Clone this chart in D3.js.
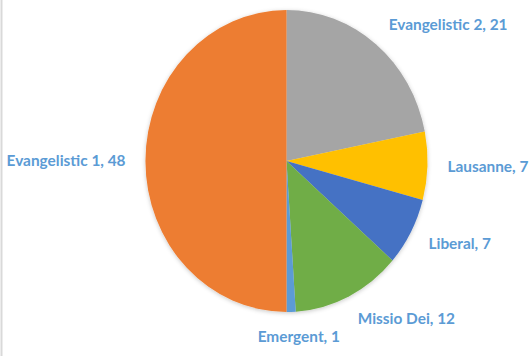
<!DOCTYPE html>
<html>
<head>
<meta charset="utf-8">
<script src="https://cdn.jsdelivr.net/npm/d3@7"></script>
<style>
  html, body { margin: 0; padding: 0; background: #fff; }
  svg { display: block; }
</style>
</head>
<body>
<svg id="chart" width="532" height="356"></svg>
<script>
// Slices in clockwise order, starting at twelve o'clock
const categories = ["Evangelistic 2", "Lausanne", "Liberal", "Missio Dei", "Emergent", "Evangelistic 1"];
const values = [21, 7, 7, 12, 1, 48];
const colors = ["#A5A5A5", "#FFC000", "#4472C4", "#70AD47", "#5B9BD5", "#ED7D31"];

const W = 532, H = 356;
const cx = 286.5, cy = 161;
const rx = 141, ry = 151;          // the pie is drawn slightly taller than wide
const labelGap = 20;

const svg = d3.select("#chart");

// left frame line of the chart area
svg.append("line")
  .attr("x1", 1.5).attr("x2", 1.5).attr("y1", 0).attr("y2", H)
  .attr("stroke", "#d9d9d9").attr("stroke-width", 2);

const defs = svg.append("defs");
const f = defs.append("filter").attr("id", "soft").attr("x", "-10%").attr("y", "-10%")
  .attr("width", "120%").attr("height", "120%");
f.append("feDropShadow").attr("dx", 0).attr("dy", 1).attr("stdDeviation", 2)
  .attr("flood-color", "#000").attr("flood-opacity", 0.22);

const data = categories.map((c, i) => ({ name: c, value: values[i], color: colors[i] }));
const pie = d3.pie().sort(null).value(d => d.value);
const arcs = pie(data);
const arc = d3.arc().innerRadius(0).outerRadius(rx);

const g = svg.append("g")
  .attr("transform", `translate(${cx},${cy}) scale(1,${ry / rx})`)
  .attr("filter", "url(#soft)");

g.selectAll("path")
  .data(arcs)
  .join("path")
  .attr("d", arc)
  .attr("fill", d => d.data.color);

// outside-end data labels
const labels = svg.append("g")
  .attr("font-family", "Lato, 'Open Sans', sans-serif")
  .attr("font-weight", "bold")
  .attr("font-size", "15.4px")
  .attr("fill", "#5B9BD5");

labels.selectAll("text")
  .data(arcs)
  .join("text")
  .each(function (d) {
    const a = (d.startAngle + d.endAngle) / 2;
    const s = Math.sin(a), c = Math.cos(a);
    const x = cx + (rx + labelGap) * s;
    const y = cy - (ry + labelGap) * c - 5 * c;
    const anchor = s > 0.1 ? "start" : (s < -0.1 ? "end" : "middle");
    d3.select(this)
      .attr("x", anchor === "middle" ? x + 7 : x)
      .attr("y", y)
      .attr("dy", "0.35em")
      .attr("text-anchor", anchor)
      .text(`${d.data.name}, ${d.data.value}`);
  });
</script>
</body>
</html>
